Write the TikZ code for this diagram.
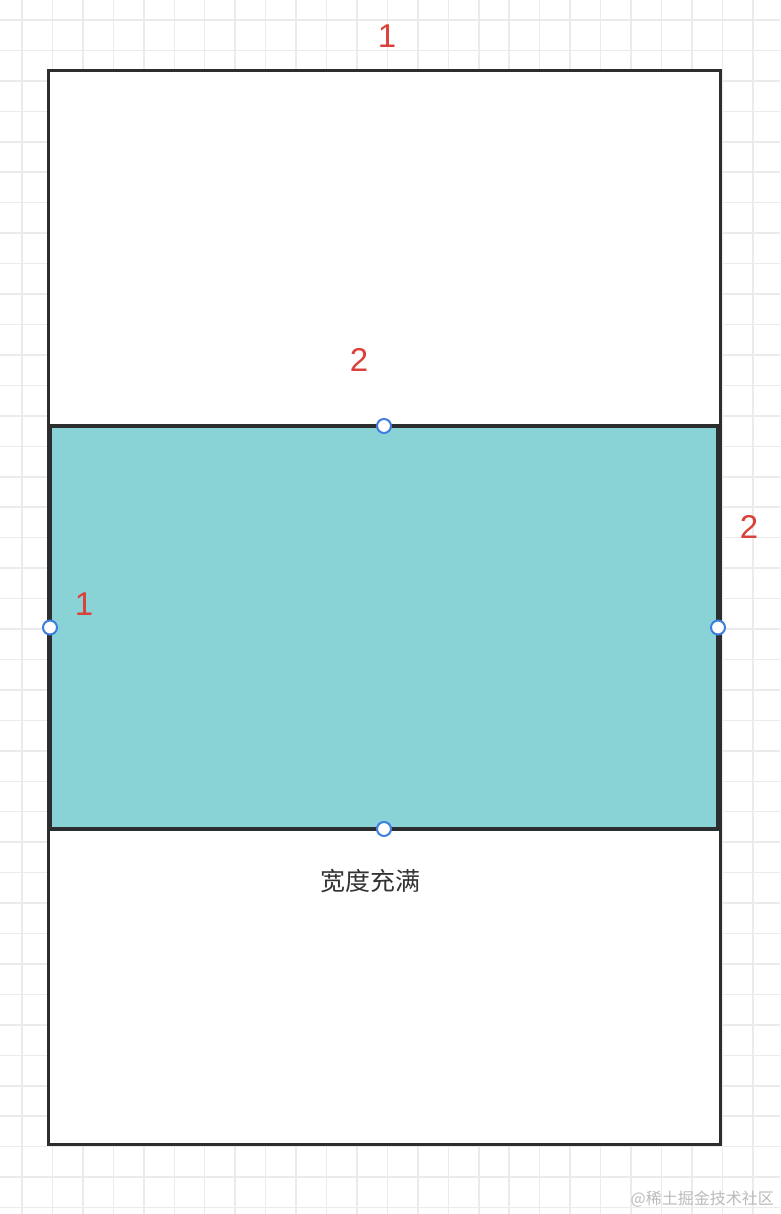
\documentclass[tikz,border=0pt]{standalone}
\usepackage{fontspec}
\setmainfont{Liberation Sans}
\newfontfamily\cjk{Noto Sans CJK SC}
\definecolor{gridgray}{HTML}{EBEBEB}
\definecolor{framegray}{HTML}{2B2D2F}
\definecolor{tealfill}{HTML}{89D3D6}
\definecolor{handleblue}{HTML}{3D7EE0}
\definecolor{numred}{HTML}{D9413A}
\definecolor{textgray}{HTML}{333333}
\definecolor{wmgray}{HTML}{BBBBBB}
\tikzset{
  gridline/.style={gridgray, line width=1.5pt},
  screenbox/.style={draw=framegray, fill=white, line width=3pt, inner sep=0pt, outer sep=0pt},
  fillbox/.style={draw=framegray, fill=tealfill, line width=3.2pt, inner sep=0pt, outer sep=0pt},
  handle/.style={circle, draw=handleblue, fill=white, line width=2pt, minimum size=14pt, inner sep=0pt},
  num/.style={numred, font=\fontsize{33}{33}\selectfont, inner sep=0pt},
  caption/.style={textgray, font=\fontsize{25}{25}\selectfont\cjk, inner sep=0pt},
  watermark/.style={wmgray, font=\fontsize{16}{16}\selectfont\cjk, inner sep=0pt}
}

\begin{document}
\begin{tikzpicture}[x=1pt,y=-1pt]
 \useasboundingbox (0,0) rectangle (780,1214);
 \fill[white] (0,0) rectangle (780,1214);
 % background grid
 \foreach \i in {0,...,24} \draw[gridline] (22+30.45*\i,0) -- (22+30.45*\i,1214);
 \foreach \j in {0,...,39} \draw[gridline] (0,20+30.45*\j) -- (780,20+30.45*\j);
 % screen and the filled box
 \node[screenbox, minimum width=672pt, minimum height=1073pt] (screen) at (384,607.5) {};
 \node[fillbox, minimum width=668pt, minimum height=403pt] (box) at (384,627.5) {};
 \foreach \s in {north,south,west,east} \node[handle] (h-\s) at (box.\s) {};
 % numbers
 \node[num] (num-top) at (387,36) {1};
 \node[num] (num-mid) at (359,360) {2};
 \node[num] (num-right) at (749,527) {2};
 \node[num] (num-left) at (84,604) {1};
 \node[caption] (cap) at (370,881) {宽度充满};
 \node[watermark, anchor=east] (wm) at (774,1199) {@稀土掘金技术社区};
\end{tikzpicture}
\end{document}
